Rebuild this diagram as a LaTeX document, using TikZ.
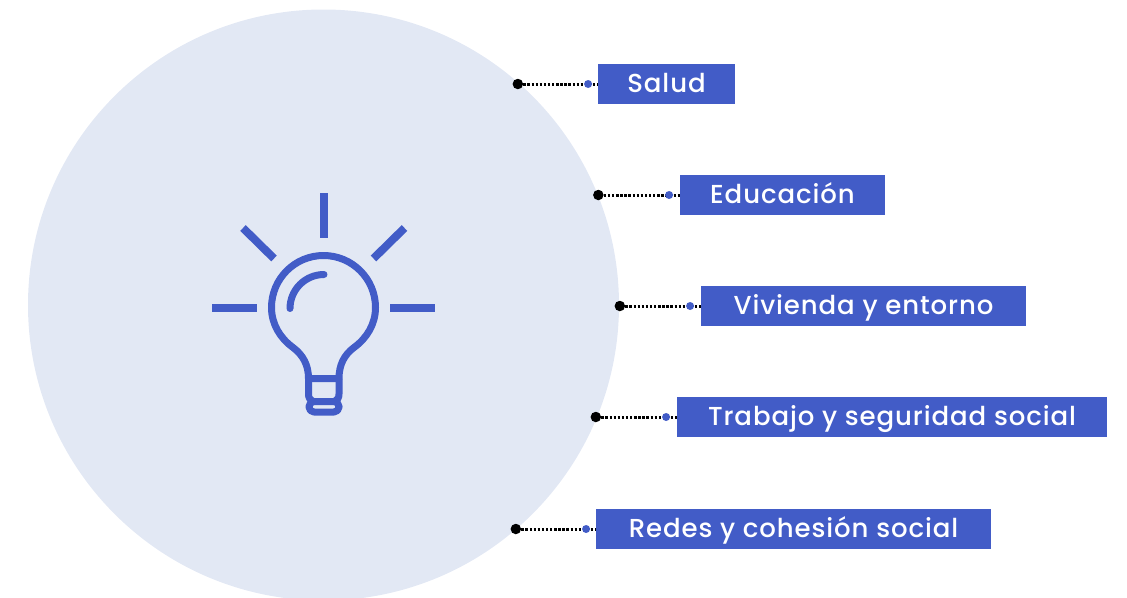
\documentclass[tikz,border=0pt]{standalone}
\usepackage{fontspec}
\setmainfont[LetterSpace=3.5]{Poppins Medium}
\usepackage{xcolor}
\usetikzlibrary{positioning}
\definecolor{tema}{HTML}{425CC7}
\definecolor{fondo}{HTML}{E2E8F4}

\begin{document}
\begin{tikzpicture}[x=1pt, y=-1pt,
    tema box/.style={fill=tema, text=white, minimum height=40pt, inner sep=0pt, text height=20pt, text depth=3.4pt, font=\fontsize{26}{30}\selectfont},
    black dot/.style={circle, fill=black, minimum size=10.5pt, inner sep=0pt},
    blue dot/.style={circle, fill=tema, minimum size=8pt, inner sep=0pt},
    link/.style={black, line width=3pt, dash pattern=on 2.4pt off 1.7pt},
    ray/.style={tema, line width=8pt},
    bulb/.style={tema, line width=7pt, line join=round}]
    \useasboundingbox (0,0) rectangle (1127,597);
    \clip (0,0) rectangle (1127,597);
    \node[circle, fill=fondo, minimum size=591pt, inner sep=0pt] (disc) at (323.5,305) {};

    % boxes
    \node[tema box, minimum width=137pt] (salud) at (666.5,84) {Salud};
    \node[tema box, minimum width=205pt] (educacion) at (782.5,195) {Educación};
    \node[tema box, minimum width=325pt] (vivienda) at (863.5,306) {Vivienda y entorno};
    \node[tema box, minimum width=430pt] (trabajo) at (892,417) {Trabajo y seguridad social};
    \node[tema box, minimum width=395pt] (redes) at (793.5,529) {Redes y cohesión social};

    % links
    \node[black dot, left=74.5pt of salud] (salud a) {};
    \node[black dot, left=76pt of educacion] (educacion a) {};
    \node[black dot, left=75.5pt of vivienda] (vivienda a) {};
    \node[black dot, left=75.5pt of trabajo] (trabajo a) {};
    \node[black dot, left=74.5pt of redes] (redes a) {};
    \draw[link] (salud a) -- (salud);
    \draw[link] (educacion a) -- (educacion);
    \draw[link] (vivienda a) -- (vivienda);
    \draw[link] (trabajo a) -- (trabajo);
    \draw[link] (redes a) -- (redes);
    \node[blue dot, left=5.5pt of salud] (salud b) {};
    \node[blue dot, left=6.5pt of educacion] (educacion b) {};
    \node[blue dot, left=6.5pt of vivienda] (vivienda b) {};
    \node[blue dot, left=6.5pt of trabajo] (trabajo b) {};
    \node[blue dot, left=5.5pt of redes] (redes b) {};

    % bulb
    \draw[ray] (324,193) -- (324,238);
    \draw[ray] (212,308) -- (257,308);
    \draw[ray] (390,308) -- (435,308);
    \draw[ray] (243,228) -- (274,258.5);
    \draw[ray] (404.5,228) -- (373.5,258.5);
    \draw[bulb] (308.5,378.5) .. controls (308.5,365) and (303,355) .. (293,347.5)
        .. controls (280,338) and (271.5,324) .. (271.5,307.5)
        arc[start angle=180, end angle=360, radius=52]
        .. controls (375.5,324) and (367,338) .. (354,347.5)
        .. controls (344,355) and (339,365) .. (339,378.5) -- cycle;
    \draw[bulb] (308.5,378.5) -- (308.5,394) .. controls (308.5,398) and (310,400) .. (313,401.5)
        (339,378.5) -- (339,394) .. controls (339,398) and (337.5,400) .. (334.5,401.5);
    \draw[bulb, rounded corners=5pt] (309,401.5) rectangle (339,412);
    \draw[tema, line width=7pt, line cap=round] (290,308.5) arc[start angle=180, end angle=270, radius=34];
\end{tikzpicture}
\end{document}
